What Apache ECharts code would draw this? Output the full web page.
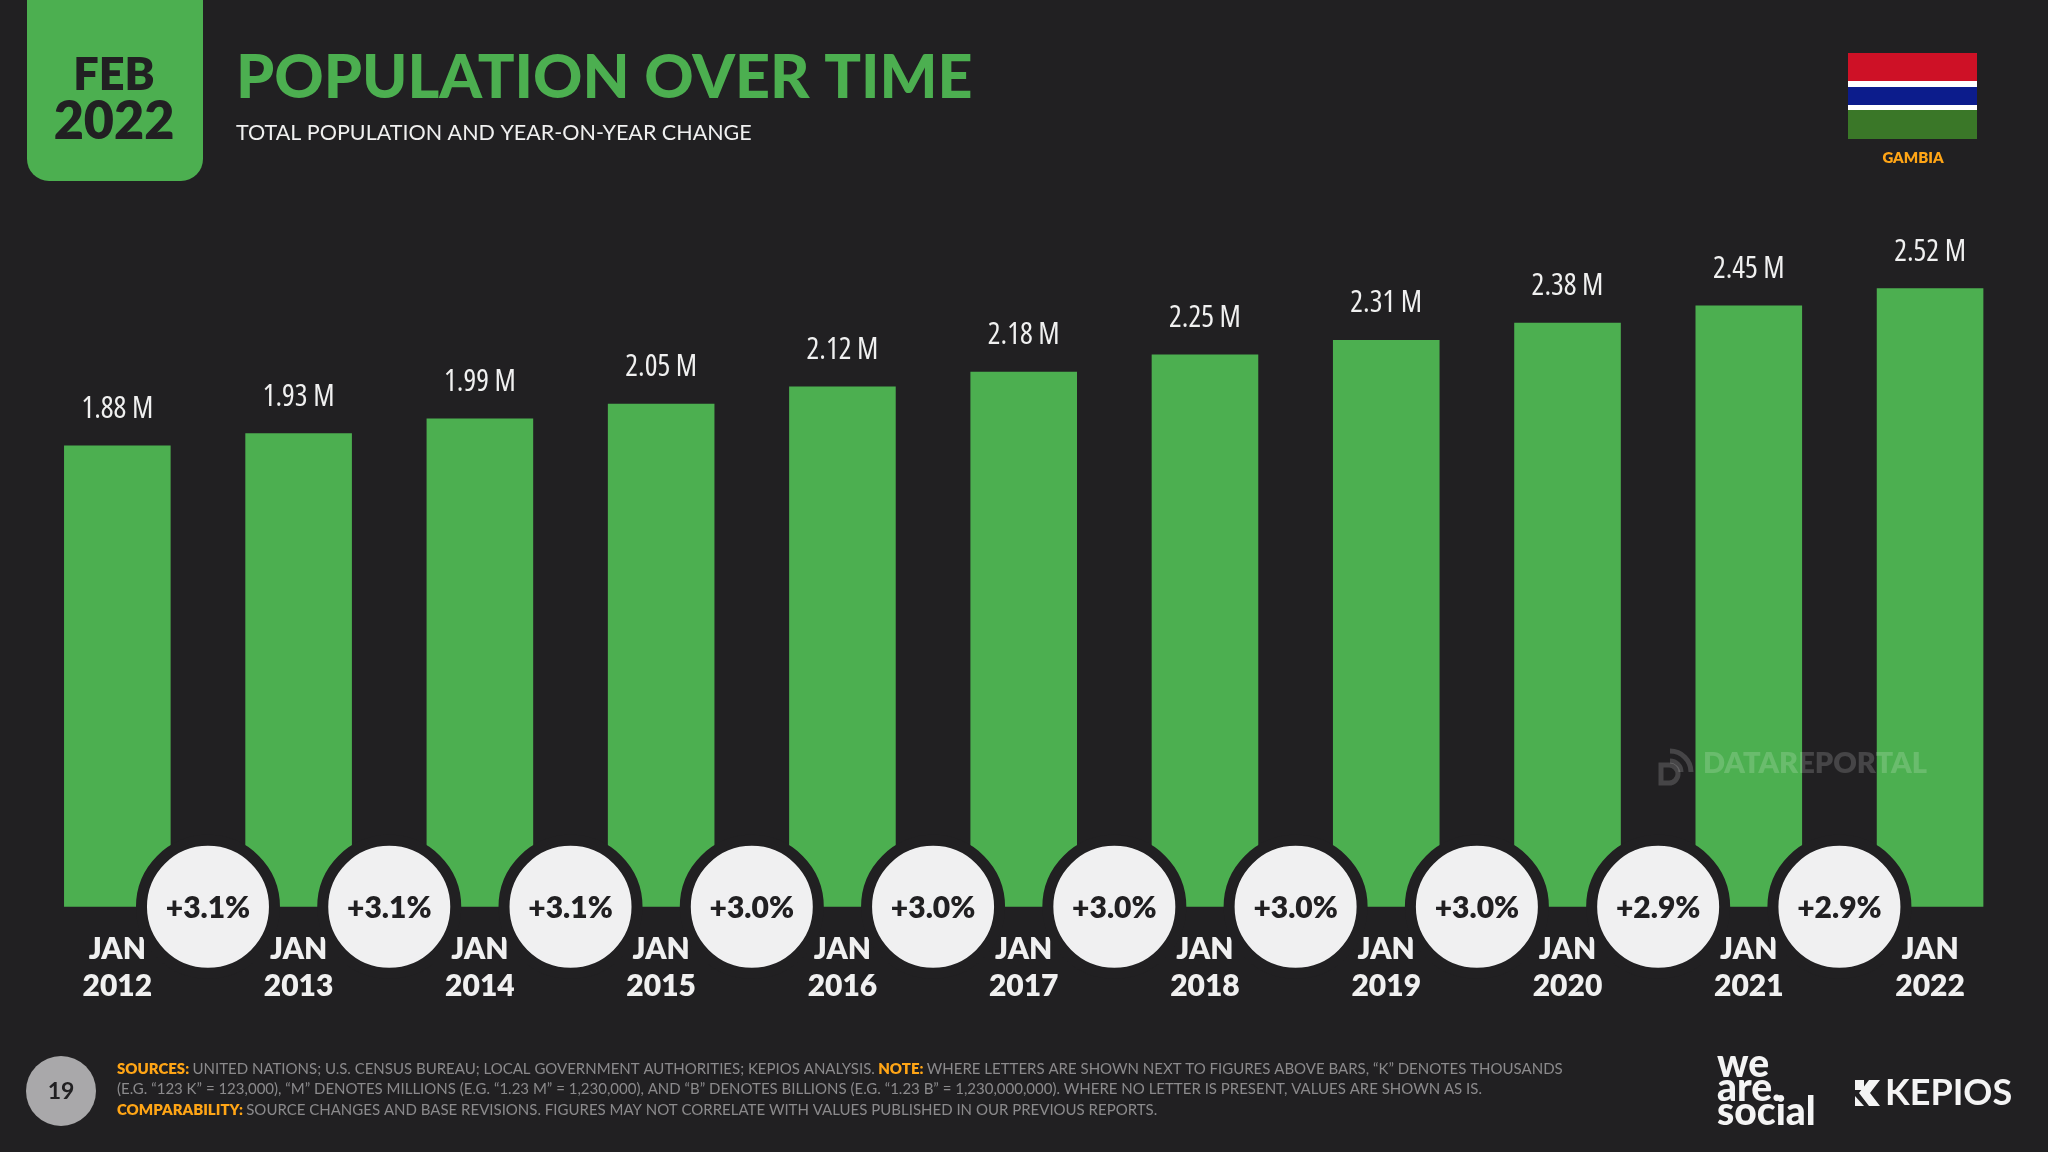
<!DOCTYPE html>
<html>
<head>
<meta charset="utf-8">
<title>Population over time</title>
<script src="https://cdn.jsdelivr.net/npm/echarts@6/dist/echarts.min.js"></script>
<style>
  html, body { margin: 0; padding: 0; background: #212022; }
  #chart { width: 2048px; height: 1152px; }
</style>
</head>
<body>
<div id="chart"></div>
<script>
const months = ['JAN', 'JAN', 'JAN', 'JAN', 'JAN', 'JAN', 'JAN', 'JAN', 'JAN', 'JAN', 'JAN'];
const years = ['2012', '2013', '2014', '2015', '2016', '2017', '2018', '2019', '2020', '2021', '2022'];
// population, millions
const population = [1.88, 1.93, 1.99, 2.05, 2.12, 2.18, 2.25, 2.31, 2.38, 2.45, 2.52];
// year-on-year change, percent (sits between two bars)
const yoyChange = [3.1, 3.1, 3.1, 3.0, 3.0, 3.0, 3.0, 3.0, 2.9, 2.9];

const BG = '#212022';
const GREEN = '#4caf50';
const ORANGE = '#ffa516';
const FONT = 'Lato';
const MARK = 'rgba(255,255,255,0.17)';

const chart = echarts.init(document.getElementById('chart'));

function label(x, y, text, size, weight, color, align) {
  return {
    type: 'text', x: x, y: y, z: 20,
    style: {
      text: text, fill: color, font: weight + ' ' + size + 'px ' + FONT,
      align: align || 'center', verticalAlign: 'middle'
    }
  };
}

function box(x, y, w, h, color, r) {
  return {
    type: 'rect', z: 10,
    shape: {x: x, y: y, width: w, height: h, r: r || 0},
    style: {fill: color}
  };
}

function markArc(cx, cy, r, start, end) {
  return {
    type: 'arc', z: 20,
    shape: {cx: cx, cy: cy, r: r, startAngle: start, endAngle: end},
    style: {stroke: MARK, lineWidth: 5, fill: null}
  };
}

const richNote = {
  o: {fill: ORANGE, font: '800 15px ' + FONT},
  g: {fill: '#8b8a8c', font: '400 15px ' + FONT}
};

const option = {
  backgroundColor: BG,
  animation: false,
  title: {
    text: 'POPULATION OVER TIME',
    left: 231,
    top: 43,
    itemGap: 13,
    textStyle: {color: GREEN, fontFamily: FONT, fontWeight: 900, fontSize: 61},
    subtext: 'TOTAL POPULATION AND YEAR-ON-YEAR CHANGE',
    subtextStyle: {color: '#f0f0f0', fontFamily: FONT, fontWeight: 400, fontSize: 21.5}
  },
  grid: {left: 26.7, width: 1994, top: 72.4, height: 834.4},
  xAxis: [
    {
      type: 'category',
      data: years.map((y, i) => months[i] + '\n' + y),
      axisLine: {show: false},
      axisTick: {show: false},
      axisLabel: {
        color: '#f0f0f0', fontFamily: FONT, fontWeight: 800, fontSize: 30,
        lineHeight: 37, margin: 24, interval: 0
      }
    },
    {type: 'value', min: 0, max: 11, show: false}
  ],
  yAxis: {type: 'value', min: 0, max: 3.4, show: false},
  series: [
    {
      type: 'bar',
      data: population,
      barWidth: 106.6,
      itemStyle: {color: GREEN},
      z: 2,
      label: {
        show: true, position: 'top', distance: 21,
        color: '#f0f0f0', fontStyle: 'condensed', fontFamily: '"Open Sans"', fontSize: 30,
        formatter: p => p.value.toFixed(2) + ' M'
      }
    },
    {
      type: 'scatter',
      xAxisIndex: 1,
      data: yoyChange.map((v, i) => [i + 1, 0, v]),
      symbol: 'circle',
      symbolSize: 133,
      clip: false,
      z: 3,
      itemStyle: {color: '#f0f0f1', borderColor: BG, borderWidth: 11, opacity: 1},
      label: {
        show: true, position: 'inside', offset: [0, 2],
        color: BG, fontFamily: FONT, fontWeight: 800, fontSize: 30,
        formatter: p => '+' + p.value[2].toFixed(1) + '%'
      }
    }
  ],
  graphic: [
    // date tab
    box(27, -30, 176, 211, GREEN, 22),
    label(114, 75, 'FEB', 45, 800, BG),
    label(114, 122, '2022', 52, 800, BG),
    // flag
    box(1848, 53, 129, 86, '#ffffff'),
    box(1848, 53, 129, 28, '#ce1126'),
    box(1848, 87, 129, 18, '#0c1c8c'),
    box(1848, 110, 129, 29, '#3a7728'),
    label(1913, 158, 'GAMBIA', 15, 800, ORANGE),
    // watermark
    markArc(1670, 772, 21, -Math.PI / 2, 0),
    markArc(1670, 772, 11, -Math.PI / 2, 0),
    markArc(1669, 774, 9, -Math.PI / 2, Math.PI / 2),
    {
      type: 'polyline', z: 20,
      shape: {points: [[1669, 765], [1661, 765], [1661, 783], [1669, 783]]},
      style: {stroke: MARK, lineWidth: 5, fill: null}
    },
    label(1703, 764, 'DATAREPORTAL', 29, 800, MARK, 'left'),
    // footer
    {
      type: 'circle', z: 10,
      shape: {cx: 61, cy: 1091, r: 35},
      style: {fill: '#a9a8aa'}
    },
    label(61, 1092, '19', 23, 700, BG),
    {
      type: 'text', x: 117, y: 1069, z: 20,
      style: {
        text: '{o|SOURCES:} {g|UNITED NATIONS; U.S. CENSUS BUREAU; LOCAL GOVERNMENT AUTHORITIES; KEPIOS ANALYSIS.} {o|NOTE:} {g|WHERE LETTERS ARE SHOWN NEXT TO FIGURES ABOVE BARS, “K” DENOTES THOUSANDS}',
        rich: richNote, verticalAlign: 'middle'
      }
    },
    {
      type: 'text', x: 117, y: 1089, z: 20,
      style: {
        text: '{g|(E.G. “123 K” = 123,000), “M” DENOTES MILLIONS (E.G. “1.23 M” = 1,230,000), AND “B” DENOTES BILLIONS (E.G. “1.23 B” = 1,230,000,000). WHERE NO LETTER IS PRESENT, VALUES ARE SHOWN AS IS.}',
        rich: richNote, verticalAlign: 'middle'
      }
    },
    {
      type: 'text', x: 117, y: 1110, z: 20,
      style: {
        text: '{o|COMPARABILITY:} {g|SOURCE CHANGES AND BASE REVISIONS. FIGURES MAY NOT CORRELATE WITH VALUES PUBLISHED IN OUR PREVIOUS REPORTS.}',
        rich: richNote, verticalAlign: 'middle'
      }
    },
    // logos
    label(1717, 1064, 'we', 39, 900, '#f4f4f4', 'left'),
    label(1717, 1088, 'are.', 39, 900, '#f4f4f4', 'left'),
    label(1717, 1112, 'social', 39, 900, '#f4f4f4', 'left'),
    {
      type: 'polygon', z: 20,
      shape: {points: [[1855, 1080], [1864, 1080], [1864, 1090], [1855, 1090]]},
      style: {fill: '#f4f4f4'}
    },
    {
      type: 'polygon', z: 20,
      shape: {points: [[1855, 1096], [1864, 1106], [1855, 1106]]},
      style: {fill: '#f4f4f4'}
    },
    {
      type: 'polygon', z: 20,
      shape: {points: [[1869, 1080], [1880, 1080], [1870, 1093], [1880, 1106], [1869, 1106], [1859, 1093]]},
      style: {fill: '#f4f4f4'}
    },
    label(1885, 1093, 'KEPIOS', 36, 700, '#f4f4f4', 'left')
  ]
};

chart.setOption(option);
</script>
</body>
</html>
